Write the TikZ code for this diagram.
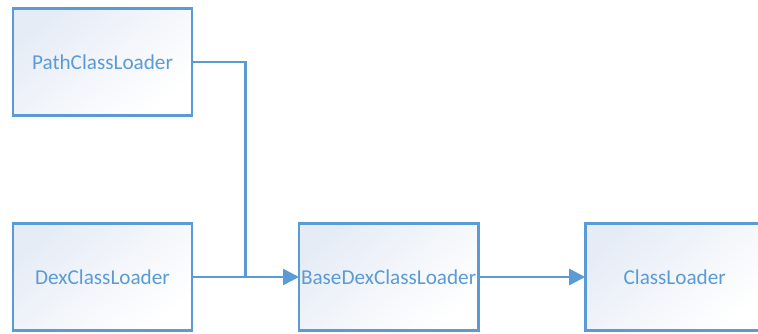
\documentclass[tikz,border=0pt]{standalone}
\usepackage{fontspec}
\setmainfont{Carlito}
\usetikzlibrary{positioning}
\usetikzlibrary{calc}
\usetikzlibrary{arrows.meta}
\definecolor{loaderblue}{RGB}{91,155,213}
\definecolor{loaderfill}{RGB}{230,236,246}

\begin{document}
\begin{tikzpicture}[node distance=54pt and 53.5pt,line width=1.3pt,
  loader/.style={draw=loaderblue,text=loaderblue,minimum width=89.5pt,minimum height=53.5pt,
    outer sep=0pt,inner sep=1pt,top color=loaderfill,bottom color=white,shading angle=40,
    font=\fontsize{10.6}{12}\selectfont},
  link/.style={draw=loaderblue,-{Triangle[length=8pt,width=8pt]}}]
  \useasboundingbox (0,0) rectangle (379pt,166.5pt);
  \clip (0,0) rectangle (379pt,166.5pt);
  \node[loader](pathcl) at (51.25pt,135.5pt) {PathClassLoader};
  \node[loader,below= of pathcl](dexcl) {DexClassLoader};
  \node[loader,right= of dexcl](basedex) {BaseDexClassLoader};
  \node[loader,right= of basedex](classl) {ClassLoader};
  \coordinate (join) at ($(dexcl.east)!0.5!(basedex.west)$);
  \draw[link] (dexcl)--(basedex);
  \draw[link] (basedex)--(classl);
  \draw[draw=loaderblue] (pathcl.east) -| (join);
\end{tikzpicture}
\end{document}
